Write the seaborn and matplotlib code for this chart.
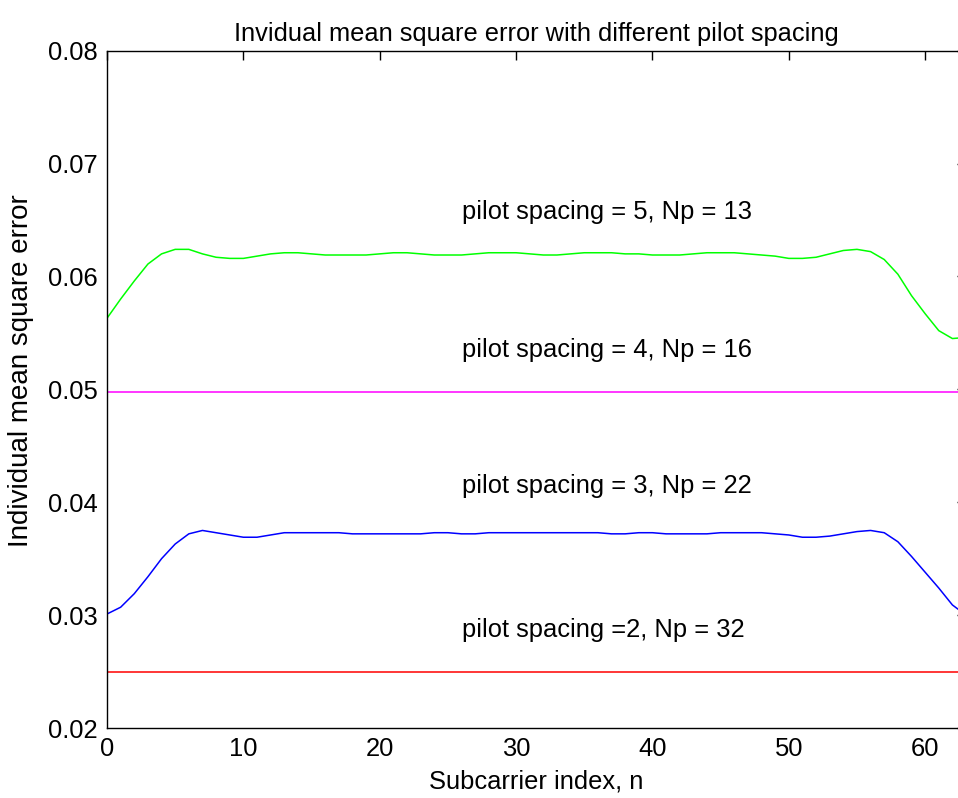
import numpy as np
import pandas as pd
import matplotlib
matplotlib.use("Agg")
import matplotlib.pyplot as plt
import seaborn as sns

# Subcarrier indices
subcarrier = list(range(64))

# Pilot spacing 5 (Np = 13)
mse_sp5 = [0.0563, 0.0580, 0.0596, 0.0611, 0.0620, 0.0624, 0.0624, 0.0620,
           0.0617, 0.0616, 0.0616, 0.0618, 0.0620, 0.0621, 0.0621, 0.0620,
           0.0619, 0.0619, 0.0619, 0.0619, 0.0620, 0.0621, 0.0621, 0.0620,
           0.0619, 0.0619, 0.0619, 0.0620, 0.0621, 0.0621, 0.0621, 0.0620,
           0.0619, 0.0619, 0.0620, 0.0621, 0.0621, 0.0621, 0.0620, 0.0620,
           0.0619, 0.0619, 0.0619, 0.0620, 0.0621, 0.0621, 0.0621, 0.0620,
           0.0619, 0.0618, 0.0616, 0.0616, 0.0617, 0.0620, 0.0623, 0.0624,
           0.0622, 0.0615, 0.0602, 0.0583, 0.0567, 0.0552, 0.0545, 0.0546]

# Pilot spacing 4 (Np = 16)
mse_sp4_level = 0.0498

# Pilot spacing 3 (Np = 22)
mse_sp3 = [0.0301, 0.0307, 0.0319, 0.0334, 0.0350, 0.0363, 0.0372, 0.0375,
           0.0373, 0.0371, 0.0369, 0.0369, 0.0371, 0.0373, 0.0373, 0.0373,
           0.0373, 0.0373, 0.0372, 0.0372, 0.0372, 0.0372, 0.0372, 0.0372,
           0.0373, 0.0373, 0.0372, 0.0372, 0.0373, 0.0373, 0.0373, 0.0373,
           0.0373, 0.0373, 0.0373, 0.0373, 0.0373, 0.0372, 0.0372, 0.0373,
           0.0373, 0.0372, 0.0372, 0.0372, 0.0372, 0.0373, 0.0373, 0.0373,
           0.0373, 0.0372, 0.0371, 0.0369, 0.0369, 0.0370, 0.0372, 0.0374,
           0.0375, 0.0373, 0.0365, 0.0352, 0.0338, 0.0324, 0.0309, 0.0300]

# Pilot spacing 2 (Np = 32)
mse_sp2_level = 0.0250

series_names = ["sp5", "sp4", "sp3", "sp2"]
series_colors = {"sp5": "#00ff00", "sp4": "#ff00ff", "sp3": "#0000ff", "sp2": "#ff0000"}

label_texts = ["pilot spacing = 5, Np = 13", "pilot spacing = 4, Np = 16",
               "pilot spacing = 3, Np = 22", "pilot spacing =2, Np = 32"]
label_x = [26.0, 26.0, 26.0, 26.0]
label_y = [0.0657, 0.0535, 0.0414, 0.0287]

x_ticks = [0, 10, 20, 30, 40, 50, 60]
y_ticks = [0.02, 0.03, 0.04, 0.05, 0.06, 0.07, 0.08]

frames = [
    pd.DataFrame({"n": subcarrier, "mse": mse_sp5, "series": "sp5"}),
    pd.DataFrame({"n": subcarrier, "mse": [mse_sp4_level] * len(subcarrier), "series": "sp4"}),
    pd.DataFrame({"n": subcarrier, "mse": mse_sp3, "series": "sp3"}),
    pd.DataFrame({"n": subcarrier, "mse": [mse_sp2_level] * len(subcarrier), "series": "sp2"}),
]
df = pd.concat(frames, ignore_index=True)

sns.set_theme(style="white")
plt.rcParams["font.family"] = ["Liberation Sans", "DejaVu Sans"]

fig = plt.figure(figsize=(9.58, 7.98), dpi=100)
ax = fig.add_axes([0.1117, 0.0877, 0.8967, 0.8488])

sns.lineplot(data=df, x="n", y="mse", hue="series", hue_order=series_names,
             palette=series_colors, linewidth=1.1, legend=False, ax=ax)

for txt, tx, ty in zip(label_texts, label_x, label_y):
    ax.text(tx, ty, txt, ha="left", va="center", fontsize=18.4, color="black")

ax.set_xlim(0, 63)
ax.set_ylim(0.02, 0.08)
ax.set_xticks(x_ticks)
ax.set_yticks(y_ticks)
ax.set_xticklabels([str(v) for v in x_ticks])
ax.set_yticklabels([f"{v:.2f}" for v in y_ticks])
ax.tick_params(direction="in", length=6.5, width=1.0, color="black",
               top=True, right=True, labelsize=18.4, labelcolor="black")
ax.tick_params(axis="x", pad=6.5)
ax.tick_params(axis="y", pad=7.0)

for side in ["left", "right", "top", "bottom"]:
    ax.spines[side].set_visible(True)
    ax.spines[side].set_color("black")
    ax.spines[side].set_linewidth(1.0)

ax.set_xlabel("Subcarrier index, n", fontsize=18.4, color="black", labelpad=6)
ax.set_ylabel("Individual mean square error", fontsize=20.0, color="black")
ax.yaxis.set_label_coords(-0.0855, 0.528)
ax.set_title("Invidual mean square error with different pilot spacing",
             fontsize=18.3, color="black", pad=7)

fig.savefig("out.png", dpi=100, facecolor="white")
